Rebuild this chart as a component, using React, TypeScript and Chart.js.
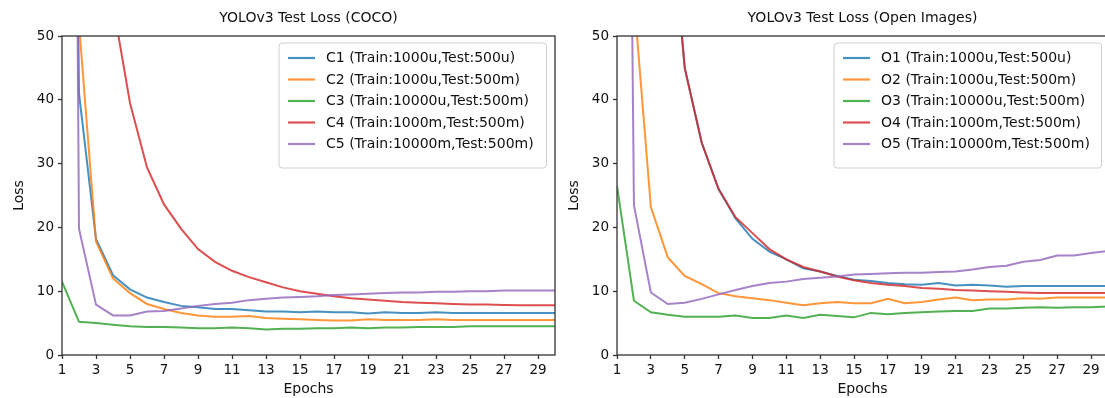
import React, { useEffect, useRef } from 'react';
import { Chart, registerables } from 'chart.js';

Chart.register(...registerables);

// ---------------- data ----------------
const EPOCHS = [1, 2, 3, 4, 5, 6, 7, 8, 9, 10, 11, 12, 13, 14, 15, 16, 17, 18, 19, 20, 21, 22, 23, 24, 25, 26, 27, 28, 29, 30];
const X_TICKS = [1, 3, 5, 7, 9, 11, 13, 15, 17, 19, 21, 23, 25, 27, 29];
const Y_TICKS = [0, 10, 20, 30, 40, 50];

const COCO_TITLE = 'YOLOv3 Test Loss (COCO)';
const OPEN_TITLE = 'YOLOv3 Test Loss (Open Images)';

const COCO_LABELS = [
  'C1 (Train:1000u,Test:500u)',
  'C2 (Train:1000u,Test:500m)',
  'C3 (Train:10000u,Test:500m)',
  'C4 (Train:1000m,Test:500m)',
  'C5 (Train:10000m,Test:500m)',
];
const OPEN_LABELS = [
  'O1 (Train:1000u,Test:500u)',
  'O2 (Train:1000u,Test:500m)',
  'O3 (Train:10000u,Test:500m)',
  'O4 (Train:1000m,Test:500m)',
  'O5 (Train:10000m,Test:500m)',
];

const C1 = [300, 41, 18.2, 12.5, 10.3, 9.0, 8.3, 7.7, 7.5, 7.2, 7.2, 7.0, 6.8, 6.8, 6.7, 6.8, 6.7, 6.7, 6.5, 6.7, 6.6, 6.6, 6.7, 6.6, 6.6, 6.6, 6.6, 6.6, 6.6, 6.6];
const C2 = [320, 52, 17.8, 12.0, 9.7, 8.0, 7.2, 6.6, 6.2, 6.0, 6.0, 6.1, 5.8, 5.7, 5.6, 5.5, 5.4, 5.4, 5.6, 5.5, 5.5, 5.5, 5.6, 5.5, 5.5, 5.5, 5.5, 5.5, 5.5, 5.5];
const C3 = [11.5, 5.2, 5.0, 4.75, 4.5, 4.4, 4.4, 4.3, 4.2, 4.2, 4.3, 4.2, 4.0, 4.1, 4.1, 4.2, 4.2, 4.3, 4.2, 4.3, 4.3, 4.4, 4.4, 4.4, 4.5, 4.5, 4.5, 4.5, 4.5, 4.5];
const C4 = [300, 150, 90, 55, 39.5, 29.4, 23.6, 19.8, 16.6, 14.6, 13.2, 12.2, 11.4, 10.6, 10.0, 9.6, 9.2, 8.9, 8.7, 8.5, 8.3, 8.2, 8.1, 8.0, 7.9, 7.9, 7.85, 7.8, 7.8, 7.8];
const C5 = [400, 19.8, 7.9, 6.2, 6.2, 6.8, 6.9, 7.3, 7.7, 8.0, 8.2, 8.6, 8.8, 9.0, 9.1, 9.2, 9.4, 9.5, 9.6, 9.7, 9.8, 9.8, 9.9, 9.9, 10.0, 10.0, 10.1, 10.1, 10.1, 10.1];

const O1 = [300, 180, 110, 75, 45, 33.3, 26, 21.4, 18.2, 16.2, 15.0, 13.6, 13.1, 12.4, 11.8, 11.6, 11.3, 11.1, 11.0, 11.3, 10.9, 11.0, 10.9, 10.7, 10.8, 10.8, 10.8, 10.8, 10.8, 10.8];
const O2 = [300, 56, 23.2, 15.3, 12.4, 11.1, 9.7, 9.2, 8.9, 8.6, 8.2, 7.8, 8.1, 8.3, 8.1, 8.1, 8.8, 8.1, 8.3, 8.7, 9.0, 8.6, 8.7, 8.7, 8.9, 8.8, 9.0, 9.0, 9.0, 9.0];
const O3 = [26.5, 8.5, 6.7, 6.3, 6.0, 6.0, 6.0, 6.2, 5.8, 5.8, 6.2, 5.8, 6.3, 6.1, 5.9, 6.6, 6.4, 6.6, 6.7, 6.8, 6.9, 6.9, 7.3, 7.3, 7.4, 7.5, 7.4, 7.5, 7.5, 7.6];
const O4 = [300, 180, 110, 75, 45, 33.3, 26, 21.6, 19.1, 16.6, 15.0, 13.8, 13.1, 12.3, 11.7, 11.3, 11.0, 10.8, 10.5, 10.4, 10.2, 10.1, 10.0, 9.9, 9.8, 9.7, 9.7, 9.7, 9.7, 9.7];
const O5 = [300, 23.5, 9.8, 8.0, 8.2, 8.8, 9.5, 10.2, 10.8, 11.3, 11.5, 11.9, 12.1, 12.3, 12.6, 12.7, 12.8, 12.9, 12.9, 13.0, 13.1, 13.4, 13.8, 14.0, 14.6, 14.9, 15.6, 15.6, 16.0, 16.3];

const COLORS = ['rgba(31,119,180,0.82)', 'rgba(255,127,14,0.82)', 'rgba(44,160,44,0.82)', 'rgba(214,39,40,0.82)', 'rgba(148,103,189,0.82)'];

// ---------------- styling ----------------
const FONT = '"DejaVu Sans", sans-serif';
const TEXT = '#111111';
const AXIS = '#333333';

const decorPlugin = {
  id: 'decor',
  afterDraw(chart: any, _args: any, opts: any) {
    const { ctx, chartArea } = chart;
    const { left, right, top, bottom } = chartArea;
    ctx.save();
    // frame (spines)
    ctx.strokeStyle = AXIS;
    ctx.lineWidth = 1.3;
    ctx.strokeRect(left, top, right - left, bottom - top);
    // title
    ctx.fillStyle = TEXT;
    ctx.font = `14px ${FONT}`;
    ctx.textAlign = 'center';
    ctx.textBaseline = 'middle';
    ctx.fillText(opts.title, (left + right) / 2, 18);
    // legend
    const x0 = 279;
    const x1 = 546.5;
    const y0 = 43;
    const y1 = 168;
    ctx.beginPath();
    const r = 3;
    ctx.moveTo(x0 + r, y0);
    ctx.lineTo(x1 - r, y0);
    ctx.quadraticCurveTo(x1, y0, x1, y0 + r);
    ctx.lineTo(x1, y1 - r);
    ctx.quadraticCurveTo(x1, y1, x1 - r, y1);
    ctx.lineTo(x0 + r, y1);
    ctx.quadraticCurveTo(x0, y1, x0, y1 - r);
    ctx.lineTo(x0, y0 + r);
    ctx.quadraticCurveTo(x0, y0, x0 + r, y0);
    ctx.closePath();
    ctx.fillStyle = 'rgba(255,255,255,0.85)';
    ctx.fill();
    ctx.strokeStyle = '#d0d0d0';
    ctx.lineWidth = 1;
    ctx.stroke();
    ctx.font = `14px ${FONT}`;
    ctx.textAlign = 'left';
    ctx.textBaseline = 'middle';
    const labels: string[] = opts.labels;
    labels.forEach((lab, i) => {
      const y = y0 + 15 + i * 21.5;
      ctx.strokeStyle = COLORS[i];
      ctx.lineWidth = 2.2;
      ctx.beginPath();
      ctx.moveTo(x0 + 9, y);
      ctx.lineTo(x0 + 36, y);
      ctx.stroke();
      ctx.fillStyle = TEXT;
      ctx.fillText(lab, x0 + 47, y + 0.5);
    });
    ctx.restore();
  },
};

function buildChart(canvas: HTMLCanvasElement, title: string, labels: string[], series: number[][], padRight: number) {
  return new Chart(canvas, {
    type: 'line',
    data: {
      datasets: series.map((vals, i) => ({
        label: labels[i],
        data: vals.map((v, k) => ({ x: EPOCHS[k], y: v })),
        borderColor: COLORS[i],
        backgroundColor: COLORS[i],
        borderWidth: 2,
        pointRadius: 0,
        tension: 0,
        fill: false,
        clip: 0,
        order: 5 - i,
      })),
    },
    options: {
      responsive: false,
      animation: false,
      events: [],
      layout: { padding: { left: 0, top: 36, right: padRight, bottom: 0 } },
      plugins: {
        legend: { display: false },
        title: { display: false },
        tooltip: { enabled: false },
        decor: { title, labels },
      } as any,
      scales: {
        x: {
          type: 'linear',
          min: 1,
          max: 30,
          afterBuildTicks: (s: any) => {
            s.ticks = X_TICKS.map((v) => ({ value: v }));
          },
          afterFit: (s: any) => {
            s.height = 43;
          },
          ticks: {
            autoSkip: false,
            maxRotation: 0,
            padding: 3,
            color: TEXT,
            font: { family: FONT, size: 13.5 },
            callback: (v: any) => String(v),
          },
          grid: { display: true, drawOnChartArea: false, drawTicks: true, tickLength: 4, tickColor: AXIS, tickWidth: 1.3 },
          border: { display: false },
          title: { display: true, text: 'Epochs', color: TEXT, font: { family: FONT, size: 14 }, padding: { top: 0, bottom: 0 } },
        },
        y: {
          type: 'linear',
          min: 0,
          max: 50,
          afterBuildTicks: (s: any) => {
            s.ticks = Y_TICKS.map((v) => ({ value: v }));
          },
          afterFit: (s: any) => {
            s.width = 62;
          },
          ticks: {
            padding: 4,
            color: TEXT,
            font: { family: FONT, size: 13.5 },
            callback: (v: any) => String(v),
          },
          grid: { display: true, drawOnChartArea: false, drawTicks: true, tickLength: 4, tickColor: AXIS, tickWidth: 1.3 },
          border: { display: false },
          title: { display: true, text: 'Loss', color: TEXT, font: { family: FONT, size: 14 }, padding: { top: 11, bottom: 0 } },
        },
      },
    },
    plugins: [decorPlugin],
  } as any);
}

export default function App() {
  const leftRef = useRef<HTMLCanvasElement>(null);
  const rightRef = useRef<HTMLCanvasElement>(null);

  useEffect(() => {
    const a = buildChart(leftRef.current!, COCO_TITLE, COCO_LABELS, [C1, C2, C3, C4, C5], 5);
    const b = buildChart(rightRef.current!, OPEN_TITLE, OPEN_LABELS, [O1, O2, O3, O4, O5], 17);
    return () => {
      a.destroy();
      b.destroy();
    };
  }, []);

  return (
    <div style={{ position: 'fixed', left: 0, top: 0, width: 1105, height: 398, overflow: 'hidden', background: '#fff' }}>
      <canvas ref={leftRef} width={560} height={398} style={{ position: 'absolute', left: 0, top: 0, width: 560, height: 398 }} />
      <canvas ref={rightRef} width={570} height={398} style={{ position: 'absolute', left: 555, top: 0, width: 570, height: 398 }} />
    </div>
  );
}
